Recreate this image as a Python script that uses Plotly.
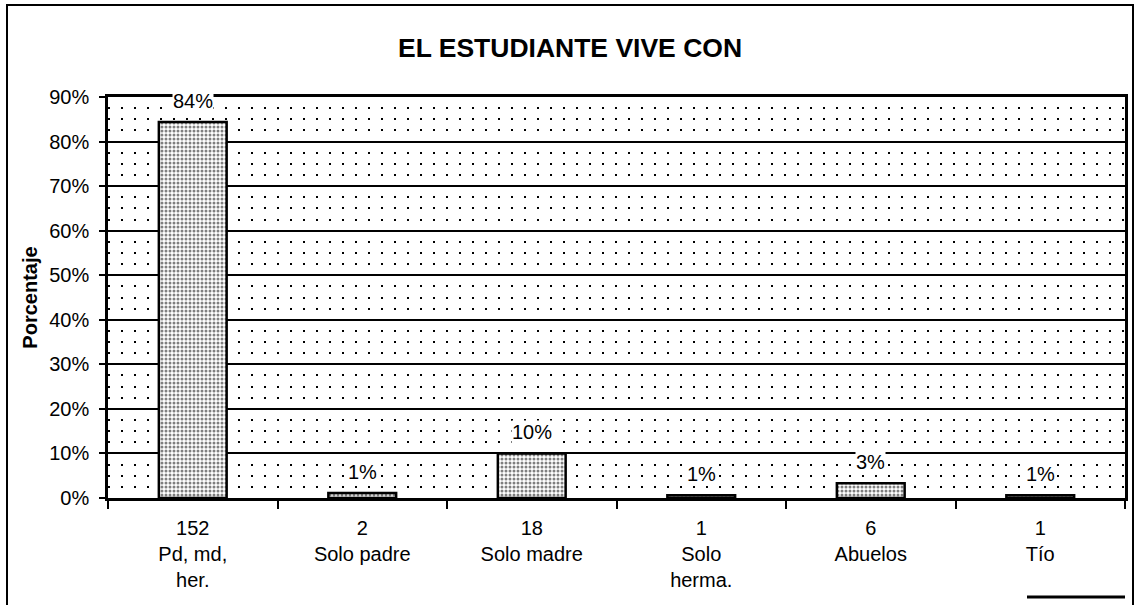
import plotly.graph_objects as go

# Data
counts = [152, 2, 18, 1, 6, 1]
groups = ["Pd, md,<br>her.", "Solo padre", "Solo madre", "Solo<br>herma.", "Abuelos", "Tío"]
percent = [84.4, 1.1, 10.0, 0.6, 3.3, 0.6]
y_ticks = [0, 10, 20, 30, 40, 50, 60, 70, 80, 90]
y_tick_text = [f"{v}%" for v in y_ticks]

categories = [f"{c}<br>{g}" for c, g in zip(counts, groups)]

FONT = "Arial, 'Liberation Sans', sans-serif"

W, H = 1139, 605
L, T = 108, 97
PW, PH = 1017, 401

fig = go.Figure()
fig.add_trace(go.Bar(
    x=categories,
    y=percent,
    width=0.4,
    marker=dict(
        color="white",
        line=dict(color="black", width=2.5),
        pattern=dict(shape=".", fgcolor="black", bgcolor="white", size=4, solidity=0.45),
    ),
    showlegend=False,
    hoverinfo="skip",
))

for cat, p in zip(categories, percent):
    fig.add_annotation(
        x=cat, y=p, text=f"{round(p):.0f}%", showarrow=False,
        yshift=21, yanchor="middle", bgcolor="white", borderpad=0,
        font=dict(family=FONT, size=20, color="black"),
    )

fig.update_layout(
    width=W, height=H,
    margin=dict(l=L, r=W - L - PW, t=T, b=H - T - PH, autoexpand=False),
    paper_bgcolor="white", plot_bgcolor="white",
    font=dict(family=FONT, size=20, color="black"),
    title=dict(text="<b>EL ESTUDIANTE VIVE CON</b>", x=570 / W, xanchor="center",
               y=1 - 48 / H, yanchor="middle", font=dict(size=26.5, family=FONT)),
)

fig.update_yaxes(
    range=[0, 90], tickvals=y_ticks, ticktext=y_tick_text,
    showgrid=True, gridcolor="black", gridwidth=1.5,
    minor=dict(dtick=2.5, showgrid=True, gridcolor="black", gridwidth=2, griddash="2px,11px"),
    ticks="outside", ticklen=6, tickwidth=1.5, tickcolor="black",
    showline=True, linecolor="black", linewidth=2.5, mirror=True,
    ticklabelstandoff=6,
    title=dict(text="<b>Porcentaje</b>", font=dict(size=20, family=FONT), standoff=7),
    zeroline=False,
)
fig.update_xaxes(
    showgrid=False, tickson="boundaries",
    ticks="outside", ticklen=8, tickwidth=1.5, tickcolor="black",
    showline=True, linecolor="black", linewidth=2.5, mirror=True,
    ticklabelstandoff=10,
)

# page px -> paper coordinates of the plot area
def px_x(px):
    return (px - L) / PW

def px_y(py):
    return (T + PH - py) / PH

# outer chart frame
fig.add_shape(type="rect", xref="paper", yref="paper",
              x0=px_x(7), x1=px_x(1133), y0=px_y(615), y1=px_y(5),
              line=dict(color="black", width=2), fillcolor="rgba(0,0,0,0)", layer="below")
# legend stub line at bottom right
fig.add_shape(type="line", xref="paper", yref="paper",
              x0=px_x(1027), x1=px_x(1125), y0=px_y(597), y1=px_y(597),
              line=dict(color="black", width=3))

fig.write_html(
    "out.html",
    config={"displayModeBar": False},
    post_script="document.body.style.margin='0';document.body.style.overflow='hidden';",
)
